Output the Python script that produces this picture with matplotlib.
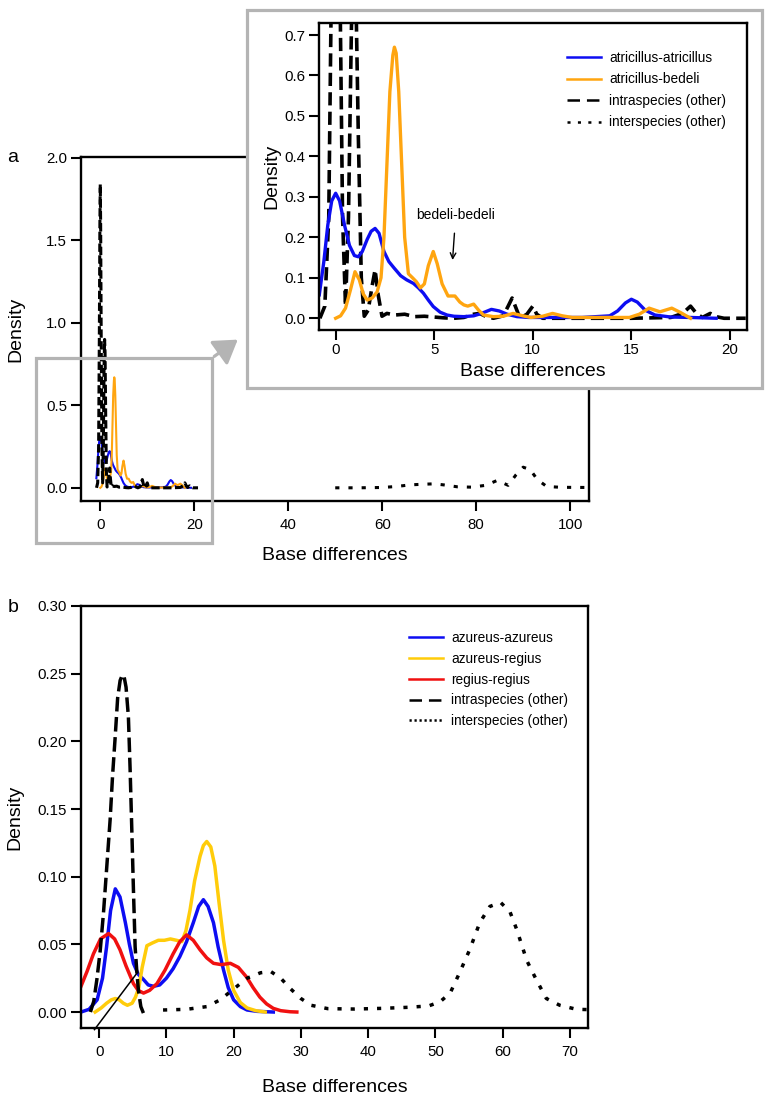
"""Density of pairwise base differences (panels a and b)."""
import matplotlib
matplotlib.use("Agg")
import matplotlib.pyplot as plt
from matplotlib.lines import Line2D
from matplotlib.patches import Rectangle, FancyArrowPatch

plt.rcParams["font.family"] = ["Liberation Sans", "DejaVu Sans"]
plt.rcParams["lines.scale_dashes"] = False
plt.rcParams["axes.linewidth"] = 1.7

# ---- panel a data ----
a_aa_x = [-0.83, -0.6, -0.4, -0.2, 0.0, 0.2, 0.45, 0.7, 0.95, 1.15, 1.35, 1.6, 1.8, 2.0, 2.2, 2.45,
          2.7, 2.95, 3.3, 3.6, 3.95, 4.2, 4.45, 4.7, 4.95, 5.3, 5.65, 6.0, 6.5, 7.0, 7.4, 7.9, 8.3,
          8.7, 9.2, 9.8, 11, 12.5, 13.9, 14.3, 14.7, 15.0, 15.3, 15.7, 16.2, 17.0, 18, 19.3]
a_aa_y = [0.058, 0.14, 0.23, 0.29, 0.309, 0.29, 0.23, 0.18, 0.155, 0.152, 0.165, 0.195, 0.215,
          0.222, 0.21, 0.165, 0.14, 0.125, 0.105, 0.095, 0.086, 0.075, 0.062, 0.045, 0.029, 0.015,
          0.008, 0.005, 0.004, 0.006, 0.012, 0.022, 0.018, 0.01, 0.004, 0.002, 0.002, 0.002, 0.006,
          0.018, 0.038, 0.047, 0.04, 0.02, 0.008, 0.003, 0.002, 0.0]

a_ab_x = [0.0, 0.25, 0.5, 0.75, 0.98, 1.2, 1.4, 1.6, 1.85, 2.1, 2.3, 2.45, 2.6, 2.75, 2.9, 2.98,
          3.07, 3.2, 3.35, 3.5, 3.69, 3.9, 4.1, 4.3, 4.5, 4.7, 4.95, 5.15, 5.4, 5.7, 6.05, 6.3, 6.5,
          6.7, 7.0, 7.25, 7.5, 8.0, 8.5, 9.0, 9.5, 9.9, 10.5, 11.0, 11.5, 12.0, 13, 14, 14.9, 15.4,
          15.9, 16.45, 17.05, 17.5, 18.0]
a_ab_y = [0.0, 0.006, 0.025, 0.07, 0.115, 0.095, 0.06, 0.045, 0.05, 0.065, 0.1, 0.2, 0.38, 0.56,
          0.65, 0.67, 0.655, 0.56, 0.38, 0.2, 0.11, 0.1, 0.09, 0.075, 0.085, 0.13, 0.165, 0.135,
          0.085, 0.055, 0.055, 0.04, 0.033, 0.03, 0.035, 0.02, 0.008, 0.004, 0.005, 0.012, 0.006,
          0.002, 0.005, 0.012, 0.006, 0.002, 0.002, 0.002, 0.002, 0.01, 0.025, 0.016, 0.025, 0.014,
          0.0]

a_intra_x = [-0.8, -0.55, -0.35, -0.2, -0.08, 0.0, 0.08, 0.2, 0.35, 0.5, 0.65, 0.8, 0.92, 1.02,
             1.15, 1.3, 1.45, 1.65, 1.85, 2.0, 2.15, 2.35, 2.6, 3.0, 3.5, 4.0, 4.5, 5.0, 5.5, 6.0,
             6.5, 7.0, 7.3, 7.6, 8.0, 8.5, 8.75, 8.95, 9.15, 9.35, 9.7, 10.0, 10.2, 10.5, 11, 13,
             15, 17, 17.6, 18.0, 18.3, 18.6, 19.0, 19.3, 19.7, 20.8]
a_intra_y = [0.0, 0.03, 0.25, 0.9, 1.6, 1.84, 1.6, 0.9, 0.25, 0.03, 0.25, 0.72, 0.9, 0.82, 0.45,
             0.1, 0.005, 0.02, 0.08, 0.12, 0.06, 0.005, 0.012, 0.008, 0.01, 0.004, 0.005, 0.003,
             0.001, 0.0, 0.002, 0.01, 0.012, 0.005, 0.0, 0.006, 0.03, 0.05, 0.025, 0.0, 0.01, 0.03,
             0.01, 0.0, 0.0, 0.0, 0.0, 0.002, 0.012, 0.03, 0.012, 0.002, 0.012, 0.004, 0.0, 0.0]

a_inter_x = [50, 55, 60, 63, 66, 69, 71, 73, 76, 79, 82, 84.5, 86.8, 88.5, 90, 91.5, 93, 95, 98, 104]
a_inter_y = [0.0, 0.0, 0.002, 0.008, 0.018, 0.022, 0.024, 0.018, 0.006, 0.004, 0.015, 0.045,
             0.015, 0.08, 0.125, 0.11, 0.05, 0.008, 0.003, 0.002]

a_labels = ["atricillus-atricillus", "atricillus-bedeli", "intraspecies (other)", "interspecies (other)"]
a_note = "bedeli-bedeli"
a_note_xy = (5.93, 0.144)
a_note_text_xy = (6.09, 0.255)

# ---- panel b data ----
b_aa_x = [-2.7, -1.5, -0.3, 0.5, 1.1, 1.7, 2.4, 3.1, 3.9, 4.5, 5.1, 5.8, 6.6, 7.3, 8.1, 9.0, 10.0,
          11.0, 12.0, 13.0, 14.0, 14.8, 15.5, 16.2, 17.0, 17.7, 18.5, 19.2, 20.0, 21.0, 22.0, 23.5, 25.9]
b_aa_y = [0.0, 0.002, 0.009, 0.025, 0.048, 0.075, 0.091, 0.085, 0.066, 0.05, 0.036, 0.028, 0.024,
          0.02, 0.019, 0.02, 0.025, 0.032, 0.041, 0.052, 0.066, 0.078, 0.083, 0.078, 0.066, 0.048,
          0.031, 0.018, 0.009, 0.004, 0.0015, 0.0005, 0.0]

b_ar_x = [-0.6, 0.3, 1.1, 1.8, 2.4, 3.0, 3.6, 4.2, 4.9, 5.4, 5.9, 6.4, 7.1, 7.9, 8.8, 9.7, 10.6,
          11.5, 12.3, 12.9, 13.5, 14.2, 15.0, 15.5, 16.0, 16.6, 17.2, 17.8, 18.5, 19.2, 20.0, 21.0,
          22.0, 23.3, 24.7]
b_ar_y = [0.0, 0.003, 0.0065, 0.009, 0.010, 0.009, 0.0065, 0.005, 0.0065, 0.011, 0.018, 0.033,
          0.049, 0.051, 0.053, 0.053, 0.054, 0.053, 0.052, 0.06, 0.075, 0.097, 0.115, 0.123, 0.126,
          0.122, 0.108, 0.082, 0.053, 0.031, 0.016, 0.007, 0.003, 0.001, 0.0]

b_rr_x = [-2.7, -1.8, -0.85, 0.2, 1.4, 2.3, 3.1, 4.0, 5.1, 5.8, 6.6, 7.5, 8.6, 9.8, 11.0, 12.0,
          13.0, 14.0, 15.0, 16.0, 17.0, 18.2, 19.5, 20.7, 21.9, 22.9, 23.9, 24.9, 25.9, 27.0, 28.4, 29.4]
b_rr_y = [0.019, 0.03, 0.043, 0.054, 0.058, 0.054, 0.046, 0.034, 0.021, 0.016, 0.014, 0.016,
          0.021, 0.031, 0.043, 0.052, 0.057, 0.053, 0.046, 0.04, 0.036, 0.035, 0.036, 0.033, 0.026,
          0.018, 0.011, 0.006, 0.0027, 0.001, 0.0002, 0.0]

b_intra_x = [-1.3, -0.8, -0.34, 0.15, 0.64, 1.1, 1.63, 2.0, 2.38, 2.75, 3.12, 3.45, 3.7, 4.0, 4.35,
             4.6, 4.86, 5.1, 5.35, 5.6, 5.84, 6.2, 6.6]
b_intra_y = [0.0, 0.008, 0.024, 0.045, 0.073, 0.105, 0.142, 0.175, 0.203, 0.232, 0.245, 0.249,
             0.248, 0.24, 0.218, 0.18, 0.134, 0.09, 0.048, 0.03, 0.016, 0.004, -0.001]

b_inter_x = [9.5, 13, 16, 18, 20, 22, 24, 25.5, 27, 28.5, 30, 31.5, 34, 38, 42, 46, 49, 50.7, 52.2,
             53.6, 55.1, 56.6, 58.1, 59.7, 61.1, 62.1, 63.6, 65, 66.5, 68.5, 71, 72.7]
b_inter_y = [0.0015, 0.002, 0.004, 0.009, 0.017, 0.025, 0.029, 0.030, 0.025, 0.017, 0.010, 0.005,
             0.0025, 0.0022, 0.0027, 0.0035, 0.0045, 0.0076, 0.014, 0.029, 0.046, 0.066, 0.078,
             0.081, 0.074, 0.061, 0.038, 0.024, 0.010, 0.005, 0.002, 0.0018]

b_stray_x = [-0.7, 5.6]
b_stray_y = [-0.013, 0.0286]

b_labels = ["azureus-azureus", "azureus-regius", "regius-regius", "intraspecies (other)", "interspecies (other)"]

BLUE = "#0d0df2"
ORANGE = "#ffa510"
GOLD = "#ffcc0a"
RED = "#f01010"
GREY = "#b4b4b4"
DASH = (0, (9.5, 4.5))
DOT = (0, (3.0, 6.5))

W, H = 770, 1103


def fig_box(x0, y0, x1, y1):
    """像素框 -> figure 坐标。"""
    return [x0 / W, 1 - y1 / H, (x1 - x0) / W, (y1 - y0) / H]


def style_axes(ax, xpad=5):
    ax.tick_params(axis="both", direction="out", length=7, width=1.5, labelsize=10.8)
    ax.tick_params(axis="y", pad=3)
    ax.tick_params(axis="x", pad=xpad)
    for s in ax.spines.values():
        s.set_linewidth(1.7)


def set_labels(ax, xlab_y, ylab_x):
    ax.set_xlabel("Base differences", fontsize=14, va="center")
    ax.xaxis.set_label_coords(0.5, xlab_y)
    ax.set_ylabel("Density", fontsize=14, va="center")
    ax.yaxis.set_label_coords(ylab_x, 0.5)


fig = plt.figure(figsize=(W / 100, H / 100), dpi=100)

# ---- panel a, main ----
ax_a = fig.add_axes(fig_box(81, 157, 589, 501))
ax_a.plot(a_aa_x, a_aa_y, color=BLUE, lw=1.5)
ax_a.plot(a_ab_x, a_ab_y, color=ORANGE, lw=1.5)
ax_a.plot(a_intra_x, a_intra_y, color="black", lw=2.2, linestyle=(0, (6, 2.5)))
ax_a.plot(a_inter_x, a_inter_y, color="black", lw=2.2, linestyle=DOT)
ax_a.set_xlim(-4.1, 104)
ax_a.set_ylim(-0.08, 2.006)
ax_a.set_xticks([0, 20, 40, 60, 80, 100])
ax_a.set_yticks([0.0, 0.5, 1.0, 1.5, 2.0])
ax_a.set_yticklabels(["0.0", "0.5", "1.0", "1.5", "2.0"])
style_axes(ax_a)
set_labels(ax_a, -(555 - 501) / 344, -0.128)

# gray zoom box, arrow and inset frame
fig.patches.append(Rectangle((36 / W, 1 - 543 / H), 176 / W, 185 / H, transform=fig.transFigure,
                             fill=False, edgecolor=GREY, lw=2.3, zorder=1))
fig.patches.append(FancyArrowPatch((212 / W, 1 - 358 / H), (240 / W, 1 - 338 / H),
                                   transform=fig.transFigure, arrowstyle="-|>,head_length=0.7,head_width=0.45",
                                   mutation_scale=20, color=GREY, lw=2.3, zorder=1))
fig.patches.append(Rectangle((247 / W, 1 - 388 / H), 515 / W, 378 / H, transform=fig.transFigure,
                             facecolor="white", edgecolor=GREY, lw=2.3, zorder=1))

# ---- panel a, inset ----
ax_i = fig.add_axes(fig_box(319.3, 23.3, 746.7, 330), zorder=2)
ax_i.plot(a_intra_x, a_intra_y, color="black", lw=2.6, linestyle=DASH)
ax_i.plot(a_inter_x, a_inter_y, color="black", lw=2.6, linestyle=DOT)
ax_i.plot(a_aa_x, a_aa_y, color=BLUE, lw=2.4)
ax_i.plot(a_ab_x, a_ab_y, color=ORANGE, lw=2.4)
ax_i.set_xlim(-0.83, 20.85)
ax_i.set_ylim(-0.029, 0.729)
ax_i.set_xticks([0, 5, 10, 15, 20])
ax_i.set_yticks([0.0, 0.1, 0.2, 0.3, 0.4, 0.5, 0.6, 0.7])
ax_i.set_yticklabels(["0.0", "0.1", "0.2", "0.3", "0.4", "0.5", "0.6", "0.7"])
style_axes(ax_i, xpad=2)
set_labels(ax_i, -(371 - 330) / 306.7, -0.111)
ax_i.annotate(a_note, xy=a_note_xy, xytext=a_note_text_xy, ha="center", va="center", fontsize=10,
              arrowprops=dict(arrowstyle="->", color="black", lw=1.0, shrinkA=6, shrinkB=0))
a_handles = [
    Line2D([], [], color=BLUE, lw=1.8),
    Line2D([], [], color=ORANGE, lw=1.8),
    Line2D([], [], color="black", lw=1.8, linestyle=(0, (9, 5))),
    Line2D([], [], color="black", lw=1.8, linestyle=(0, (2.2, 5.3))),
]
ax_i.legend(a_handles, a_labels, loc="upper left", bbox_to_anchor=(0.58, 0.91), frameon=False,
            fontsize=9.8, handlelength=2.5, handletextpad=0.6, labelspacing=0.55,
            borderpad=0, borderaxespad=0)

fig.text(13 / W, 1 - 158 / H, "a", fontsize=14, ha="center", va="center")

# ---- panel b ----
ax_b = fig.add_axes(fig_box(81, 606, 588, 1028))
ax_b.plot(b_aa_x, b_aa_y, color=BLUE, lw=2.5)
ax_b.plot(b_ar_x, b_ar_y, color=GOLD, lw=2.5)
ax_b.plot(b_rr_x, b_rr_y, color=RED, lw=2.5)
ax_b.plot(b_intra_x, b_intra_y, color="black", lw=2.5, linestyle=(0, (10.5, 4)))
ax_b.plot(b_inter_x, b_inter_y, color="black", lw=2.5, linestyle=DOT)
ax_b.plot(b_stray_x, b_stray_y, color="black", lw=1.1, clip_on=False)
ax_b.set_xlim(-2.7, 72.7)
ax_b.set_ylim(-0.0118, 0.30)
ax_b.set_xticks([0, 10, 20, 30, 40, 50, 60, 70])
ax_b.set_yticks([0.0, 0.05, 0.10, 0.15, 0.20, 0.25, 0.30])
ax_b.set_yticklabels(["0.00", "0.05", "0.10", "0.15", "0.20", "0.25", "0.30"])
style_axes(ax_b)
set_labels(ax_b, -(1088 - 1028) / 422, -0.130)
b_handles = [
    Line2D([], [], color=BLUE, lw=1.8),
    Line2D([], [], color=GOLD, lw=1.8),
    Line2D([], [], color=RED, lw=1.8),
    Line2D([], [], color="black", lw=1.8, linestyle=(0, (9, 5))),
    Line2D([], [], color="black", lw=1.8, linestyle=(0, (1.6, 2.0))),
]
ax_b.legend(b_handles, b_labels, loc="upper left", bbox_to_anchor=(0.647, 0.941), frameon=False,
            fontsize=9.8, handlelength=2.5, handletextpad=0.6, labelspacing=0.5,
            borderpad=0, borderaxespad=0)

fig.text(13 / W, 1 - 608 / H, "b", fontsize=14, ha="center", va="center")

fig.savefig("out.png", dpi=100)
